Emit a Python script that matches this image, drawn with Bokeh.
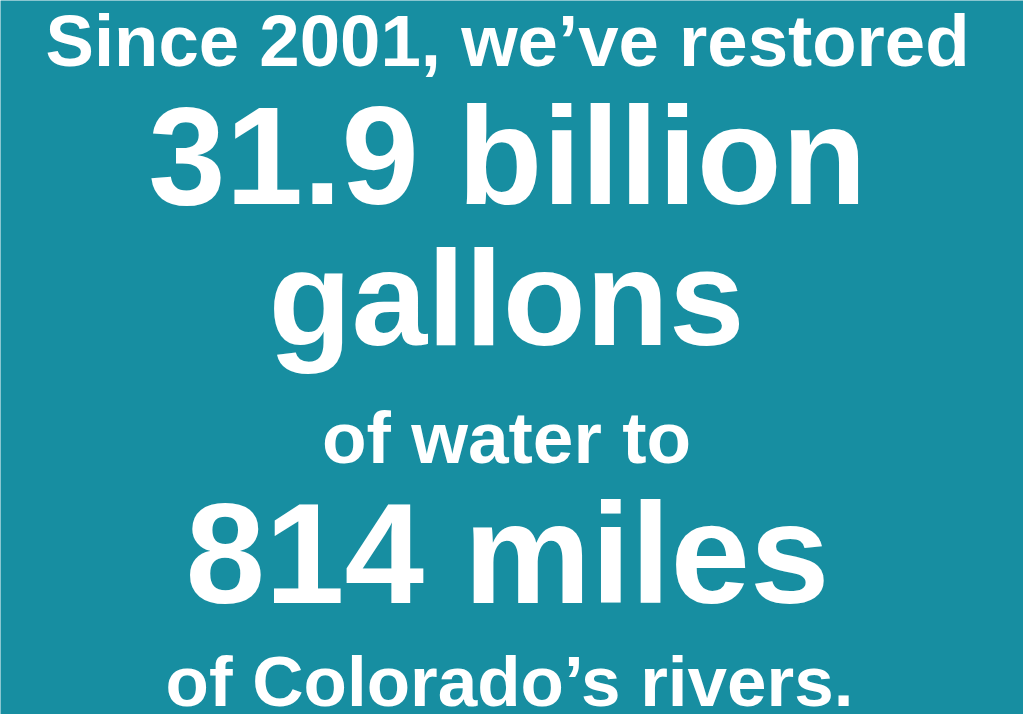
from bokeh.plotting import figure
from bokeh.models import Range1d, ColumnDataSource
from bokeh.core.properties import value
from bokeh.embed import file_html
from bokeh.resources import INLINE

# Content
lines = [
    "Since 2001, we\u2019ve restored",
    "31.9 billion",
    "gallons",
    "of water to",
    "814 miles",
    "of Colorado\u2019s rivers.",
]

# Layout: reference baseline (px from top), centre x, font size (px)
line_x = [507, 507, 506, 506, 507, 509]
line_baseline = [68, 208, 350, 465, 608, 708]
line_size_px = [72.6, 139, 136, 73, 143, 71]

BG = "#178EA1"

# Bokeh's svg text sits ~0.38 em below the requested alphabetic y; compensate
ys = [b - 0.383 * s for b, s in zip(line_baseline, line_size_px)]
sizes = [f"{s}px" for s in line_size_px]

W, H = 1023, 714
p = figure(width=W, height=H, output_backend="svg", toolbar_location=None,
           x_range=Range1d(0, W), y_range=Range1d(H, 0),
           min_border=0)
p.background_fill_color = BG
p.border_fill_color = BG
p.outline_line_color = None
p.xaxis.visible = False
p.yaxis.visible = False
p.xgrid.visible = False
p.ygrid.visible = False

src = ColumnDataSource(dict(x=line_x, y=ys, text=lines, size=sizes))
p.text(x="x", y="y", text="text", source=src,
       text_font=value("Liberation Sans"), text_font_style="bold",
       text_font_size="size", text_color="white",
       text_align="center", text_baseline="alphabetic")

open("out.html", "w").write(file_html(p, INLINE))
